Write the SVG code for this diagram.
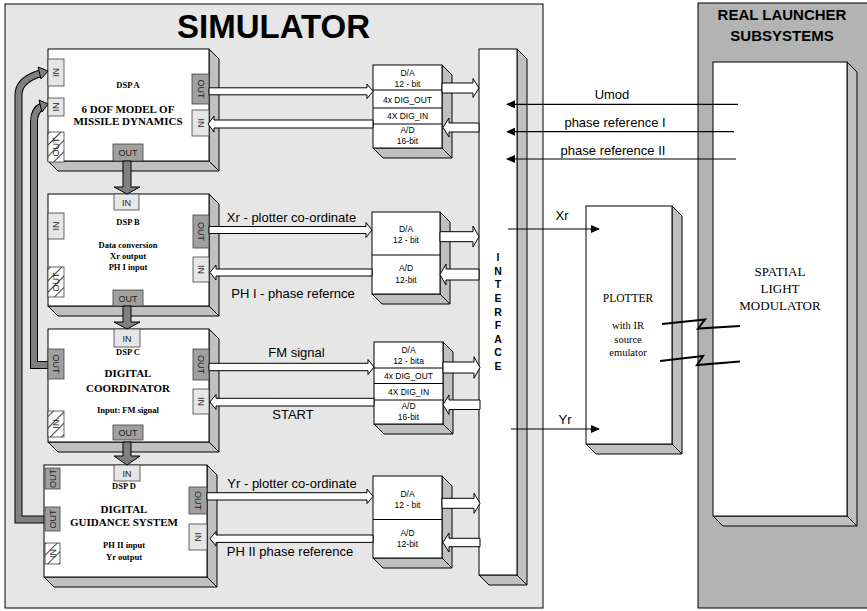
<svg xmlns="http://www.w3.org/2000/svg" width="867" height="611" viewBox="0 0 867 611">
<style>
.face{fill:#fff;stroke:#000;stroke-width:1}
.depth{fill:#c0c0c0;stroke:#000;stroke-width:1}
.pin{fill:#e6e6e6;stroke:#404040;stroke-width:0.8}
.pout{fill:#a0a0a0;stroke:#404040;stroke-width:0.8}
.phat{fill:url(#hatch);stroke:#404040;stroke-width:0.8}
.pt{font-family:"Liberation Sans",Arial,sans-serif;font-size:9px;fill:#222;text-anchor:middle}
.ser{font-family:"Liberation Serif","Times New Roman",serif;font-weight:bold;text-anchor:middle;fill:#000}
.cv{font-family:"Liberation Sans",Arial,sans-serif;font-size:8.5px;text-anchor:middle;fill:#000}
.lbl{font-family:"Liberation Sans",Arial,sans-serif;font-size:13px;text-anchor:middle;fill:#000}
.hol{fill:#fff;stroke:#000;stroke-width:1}
.thin{stroke:#000;stroke-width:1.2;fill:none}
.gbar{fill:#808080;stroke:#000;stroke-width:1}
.zig{stroke:#000;stroke-width:2;fill:none}
.plain{font-family:"Liberation Serif","Times New Roman",serif;text-anchor:middle;fill:#000}
</style>
<defs>
<pattern id="hatch" patternUnits="userSpaceOnUse" width="8" height="8" patternTransform="rotate(45)">
<rect width="8" height="8" fill="#fff"/>
<line x1="0" y1="0" x2="0" y2="8" stroke="#000" stroke-width="1.5"/>
</pattern>
<marker id="ah" markerWidth="9" markerHeight="8" refX="8" refY="4" orient="auto" markerUnits="userSpaceOnUse">
<path d="M0,0 L9,4 L0,8 Z" fill="#000"/>
</marker>
</defs>

<!-- panels -->
<g id="simulator">
<rect x="5" y="4" width="538" height="604" fill="#e6e6e6" stroke="#000" stroke-width="1"/>
<text x="177" y="37.5" font-family="Liberation Sans,Arial,sans-serif" font-size="33" font-weight="bold">SIMULATOR</text>
</g>
<g id="real-launcher">
<rect x="698" y="3" width="175" height="605" fill="#b3b3b3" stroke="#000" stroke-width="1"/>
<text x="782" y="19.5" font-family="Liberation Sans,Arial,sans-serif" font-size="15" font-weight="bold" text-anchor="middle">REAL LAUNCHER</text>
<text x="782" y="40.5" font-family="Liberation Sans,Arial,sans-serif" font-size="15" font-weight="bold" text-anchor="middle">SUBSYSTEMS</text>
</g>

<!-- feedback loops (drawn beneath DSP blocks) -->
<g id="loops">
<path d="M47,519.5 L18.5,519.5 L18.5,95 Q18.5,80 40,73.5" fill="none" stroke="#000" stroke-width="8" stroke-linejoin="miter"/>
<path d="M47,519.5 L18.5,519.5 L18.5,95 Q18.5,80 40,73.5" fill="none" stroke="#808080" stroke-width="6" stroke-linejoin="miter"/>
<path d="M38,67 L48,71 L41,79 Z" fill="#808080" stroke="#000" stroke-width="1"/>
<path d="M49,365 L34,365 L34,122 Q34,110 42,106.5" fill="none" stroke="#000" stroke-width="8"/>
<path d="M49,365 L34,365 L34,122 Q34,110 42,106.5" fill="none" stroke="#808080" stroke-width="6"/>
<path d="M39,100 L48,104 L42,112 Z" fill="#808080" stroke="#000" stroke-width="1"/>
</g>

<!-- DSP A -->
<g id="dsp-a">
<polygon class="depth" points="209,49 219,59 219,171 58,171 48,161 209,161"/>
<line x1="209" y1="161" x2="219" y2="171" stroke="#000"/>
<rect class="face" x="48" y="49" width="161" height="112"/>
<rect class="pin" x="48" y="59" width="16" height="27"/>
<text class="pt" transform="translate(56,72.5) rotate(-90)" y="3">IN</text>
<rect class="pin" x="48" y="98" width="16" height="18"/>
<text class="pt" transform="translate(56,107) rotate(-90)" y="3">IN</text>
<rect class="phat" x="48" y="132" width="16" height="30"/>
<text class="pt" transform="translate(56,147) rotate(-90)" y="3">OUT</text>
<rect class="pout" x="192" y="74" width="17" height="30"/>
<text class="pt" transform="translate(200.5,89) rotate(90)" y="3">OUT</text>
<rect class="pin" x="192" y="110" width="17" height="26"/>
<text class="pt" transform="translate(200.5,123) rotate(90)" y="3">IN</text>
<rect class="pout" x="113" y="144" width="30" height="17"/>
<text class="pt" x="128" y="156">OUT</text>
<text class="ser" x="128" y="87.5" font-size="8.5">DSP A</text>
<text class="ser" x="128" y="112.5" font-size="11">6 DOF MODEL OF</text>
<text class="ser" x="128" y="124.5" font-size="11">MISSILE DYNAMICS</text>
</g>

<!-- DSP B -->
<g id="dsp-b">
<polygon class="depth" points="209,194 219,204 219,316 58,316 48,306 209,306"/>
<line x1="209" y1="306" x2="219" y2="316" stroke="#000"/>
<rect class="face" x="48" y="194" width="161" height="112"/>
<rect class="pin" x="114" y="194" width="25" height="16"/>
<text class="pt" x="126.5" y="205.5">IN</text>
<rect class="pin" x="48" y="213" width="16" height="26"/>
<text class="pt" transform="translate(56,226) rotate(-90)" y="3">IN</text>
<rect class="phat" x="48" y="267" width="16" height="30"/>
<text class="pt" transform="translate(56,282) rotate(-90)" y="3">OUT</text>
<rect class="pout" x="193" y="215" width="16" height="33"/>
<text class="pt" transform="translate(201,231.5) rotate(90)" y="3">OUT</text>
<rect class="pin" x="193" y="257" width="16" height="25"/>
<text class="pt" transform="translate(201,269.5) rotate(90)" y="3">IN</text>
<rect class="pout" x="113" y="290" width="30" height="16"/>
<text class="pt" x="128" y="301.5">OUT</text>
<text class="ser" x="128" y="225" font-size="8.5">DSP B</text>
<text class="ser" x="128" y="248" font-size="8.5">Data conversion</text>
<text class="ser" x="128" y="259" font-size="8.5">Xr output</text>
<text class="ser" x="128" y="270" font-size="8.5">PH I input</text>
</g>

<!-- DSP C -->
<g id="dsp-c">
<polygon class="depth" points="209,329 219,339 219,452 58,452 48,442 209,442"/>
<line x1="209" y1="442" x2="219" y2="452" stroke="#000"/>
<rect class="face" x="48" y="329" width="161" height="113"/>
<rect class="pin" x="114" y="329" width="26" height="18"/>
<text class="pt" x="127" y="341.5">IN</text>
<rect class="pout" x="48" y="349" width="16" height="30"/>
<text class="pt" transform="translate(56,364) rotate(90)" y="3">OUT</text>
<rect class="phat" x="48" y="411" width="16" height="26"/>
<text class="pt" transform="translate(56,424) rotate(-90)" y="3">IN</text>
<rect class="pout" x="193" y="349" width="16" height="31"/>
<text class="pt" transform="translate(201,364.5) rotate(90)" y="3">OUT</text>
<rect class="pin" x="193" y="389" width="16" height="25"/>
<text class="pt" transform="translate(201,401.5) rotate(90)" y="3">IN</text>
<rect class="pout" x="113" y="425" width="30" height="15"/>
<text class="pt" x="128" y="436">OUT</text>
<text class="ser" x="128" y="355" font-size="8.5">DSP C</text>
<text class="ser" x="128" y="377" font-size="11">DIGITAL</text>
<text class="ser" x="128" y="391.5" font-size="11">COORDINATOR</text>
<text class="ser" x="128" y="412.5" font-size="8.5">Input: FM signal</text>
</g>

<!-- DSP D -->
<g id="dsp-d">
<polygon class="depth" points="207,465 217,475 217,587 54,587 44,577 207,577"/>
<line x1="207" y1="577" x2="217" y2="587" stroke="#000"/>
<rect class="face" x="44" y="465" width="163" height="112"/>
<rect class="pin" x="114" y="465" width="26" height="16"/>
<text class="pt" x="127" y="476.5">IN</text>
<rect class="pout" x="45" y="468" width="15" height="21"/>
<text class="pt" transform="translate(52.5,478.5) rotate(-90)" y="3">OUT</text>
<rect class="pout" x="45" y="507" width="15" height="24"/>
<text class="pt" transform="translate(52.5,519) rotate(-90)" y="3">OUT</text>
<rect class="phat" x="45" y="543" width="15" height="21"/>
<text class="pt" transform="translate(52.5,553.5) rotate(-90)" y="3">IN</text>
<rect class="pout" x="189" y="487" width="18" height="27"/>
<text class="pt" transform="translate(198,500.5) rotate(90)" y="3">OUT</text>
<rect class="pin" x="189" y="524" width="18" height="26"/>
<text class="pt" transform="translate(198,537) rotate(90)" y="3">IN</text>
<text class="ser" x="124" y="489" font-size="8.5">DSP D</text>
<text class="ser" x="124" y="512.5" font-size="11">DIGITAL</text>
<text class="ser" x="124" y="526" font-size="11">GUIDANCE SYSTEM</text>
<text class="ser" x="124" y="548" font-size="8.5">PH II input</text>
<text class="ser" x="124" y="560" font-size="8.5">Yr  output</text>
</g>

<!-- Converters -->
<g id="conv-a">
<polygon class="depth" points="442,65 452,75 452,158 383,158 373,148 442,148"/>
<line x1="442" y1="148" x2="452" y2="158" stroke="#000"/>
<rect class="face" x="373" y="65" width="69" height="83"/>
<line x1="373" y1="90" x2="442" y2="90" stroke="#000"/>
<line x1="373" y1="108" x2="442" y2="108" stroke="#000"/>
<line x1="373" y1="124" x2="442" y2="124" stroke="#000"/>
<text class="cv" x="407.5" y="75.5">D/A</text>
<text class="cv" x="407.5" y="86.5">12 - bit</text>
<text class="cv" x="407.5" y="102.5">4x DIG_OUT</text>
<text class="cv" x="407.5" y="119">4X DIG_IN</text>
<text class="cv" x="407.5" y="133">A/D</text>
<text class="cv" x="407.5" y="144">16-bit</text>
</g>
<g id="conv-b">
<polygon class="depth" points="440,212 450,222 450,304 382,304 372,294 440,294"/>
<line x1="440" y1="294" x2="450" y2="304" stroke="#000"/>
<rect class="face" x="372" y="212" width="68" height="82"/>
<line x1="372" y1="255" x2="440" y2="255" stroke="#000"/>
<text class="cv" x="406" y="231.5">D/A</text>
<text class="cv" x="406" y="242.5">12 - bit</text>
<text class="cv" x="406" y="271">A/D</text>
<text class="cv" x="406" y="282.5">12-bit</text>
</g>
<g id="conv-c">
<polygon class="depth" points="443,342 453,352 453,434 384,434 374,424 443,424"/>
<line x1="443" y1="424" x2="453" y2="434" stroke="#000"/>
<rect class="face" x="374" y="342" width="69" height="82"/>
<line x1="374" y1="368" x2="443" y2="368" stroke="#000"/>
<line x1="374" y1="383.5" x2="443" y2="383.5" stroke="#000"/>
<line x1="374" y1="400" x2="443" y2="400" stroke="#000"/>
<text class="cv" x="408.5" y="352.5">D/A</text>
<text class="cv" x="408.5" y="363.5">12 - bita</text>
<text class="cv" x="408.5" y="379">4x DIG_OUT</text>
<text class="cv" x="408.5" y="395">4X DIG_IN</text>
<text class="cv" x="408.5" y="409">A/D</text>
<text class="cv" x="408.5" y="420">16-bit</text>
</g>
<g id="conv-d">
<polygon class="depth" points="442,476 452,486 452,568 383,568 373,558 442,558"/>
<line x1="442" y1="558" x2="452" y2="568" stroke="#000"/>
<rect class="face" x="373" y="476" width="69" height="82"/>
<line x1="373" y1="519.5" x2="442" y2="519.5" stroke="#000"/>
<text class="cv" x="407.5" y="496.5">D/A</text>
<text class="cv" x="407.5" y="507.5">12 - bit</text>
<text class="cv" x="407.5" y="535.5">A/D</text>
<text class="cv" x="407.5" y="546.5">12-bit</text>
</g>

<!-- Interface -->
<g id="interface">
<polygon class="depth" points="517,49 527,59 527,585 489,585 479,575 517,575"/>
<line x1="517" y1="575" x2="527" y2="585" stroke="#000"/>
<rect class="face" x="479" y="49" width="38" height="526"/>
<g font-family="Liberation Sans,Arial,sans-serif" font-size="10.5" font-weight="bold" text-anchor="middle">
<text x="498" y="260.5">I</text>
<text x="498" y="274.5">N</text>
<text x="498" y="288">T</text>
<text x="498" y="301.5">E</text>
<text x="498" y="315.5">R</text>
<text x="498" y="328.5">F</text>
<text x="498" y="342.5">A</text>
<text x="498" y="355.5">C</text>
<text x="498" y="369.5">E</text>
</g>
</g>

<!-- Plotter -->
<g id="plotter">
<polygon class="depth" points="672,206 682,216 682,454 596,454 586,444 672,444"/>
<line x1="672" y1="444" x2="682" y2="454" stroke="#000"/>
<rect class="face" x="586" y="206" width="86" height="238"/>
<text class="plain" x="628" y="302" font-size="11.5">PLOTTER</text>
<text class="plain" x="628" y="329" font-size="10.5">with IR</text>
<text class="plain" x="628" y="342.5" font-size="10.5">source</text>
<text class="plain" x="628" y="356" font-size="10.5">emulator</text>
</g>

<!-- Spatial light modulator -->
<g id="slm">
<polygon class="depth" points="847,62 857,72 857,526 723,526 713,516 847,516"/>
<line x1="847" y1="516" x2="857" y2="526" stroke="#000"/>
<rect class="face" x="713" y="62" width="134" height="454"/>
<text class="plain" x="780" y="276" font-size="13">SPATIAL</text>
<text class="plain" x="780" y="293" font-size="13">LIGHT</text>
<text class="plain" x="780" y="310" font-size="13">MODULATOR</text>
</g>

<!-- Connectors -->
<g id="connectors">
<!-- gray down arrows -->
<polygon class="gbar" points="123,161 131,161 131,187 140,187 127,194 114,187 123,187"/>
<polygon class="gbar" points="123,306 131,306 131,322 140,322 127,329 114,322 123,322"/>
<polygon class="gbar" points="123,442 131,442 131,456 140,456 127,465 114,456 123,456"/>

<!-- DSP A <-> converter A -->
<polygon class="hol" points="209,87.8 367,87.8 367,84 373,91.3 367,98.6 367,94.8 209,94.8"/>
<polygon class="hol" points="373,120 214,120 214,116 208,124 214,132 214,128 373,128"/>
<polygon class="hol" points="442,83 473,83 473,78.5 479,88 473,97.5 473,93 442,93"/>
<polygon class="hol" points="479,123 449,123 449,118 443,127.5 449,137 449,132 479,132"/>

<!-- DSP B <-> converter B -->
<polygon class="hol" points="209,226.5 366,226.5 366,222.5 372,230 366,237.5 366,233.5 209,233.5"/>
<polygon class="hol" points="372,269 216,269 216,265 210,272.5 216,280 216,276 372,276"/>
<polygon class="hol" points="440,231.7 473,231.7 473,226 479,236.7 473,247 473,241.7 440,241.7"/>
<polygon class="hol" points="479,269 446,269 446,264 440,274.5 446,285 446,280 479,280"/>

<!-- DSP C <-> converter C -->
<polygon class="hol" points="209,363.3 368,363.3 368,359.5 374,367 368,374.5 368,370.7 209,370.7"/>
<polygon class="hol" points="374,398.3 216,398.3 216,394.5 210,402 216,409.5 216,406 374,406"/>
<polygon class="hol" points="443,362 474,362 474,356.7 480,367.5 474,378.3 474,373 443,373"/>
<polygon class="hol" points="480,400 449,400 449,395 443,404.7 449,414.5 449,409.5 480,409.5"/>

<!-- DSP D <-> converter D -->
<polygon class="hol" points="207,492.7 367,492.7 367,489 373,496.3 367,503.6 367,500 207,500"/>
<polygon class="hol" points="373,535 216,535 216,531.5 210,538.7 216,546 216,542.4 373,542.4"/>
<polygon class="hol" points="442,498.3 474,498.3 474,493.3 480,503.3 474,513.3 474,508.3 442,508.3"/>
<polygon class="hol" points="480,538.3 449,538.3 449,533 443,542.5 449,552 449,546.7 480,546.7"/>

<!-- Real launcher -> interface -->
<line class="thin" x1="738" y1="104.3" x2="507" y2="104.3" marker-end="url(#ah)"/>
<line class="thin" x1="734" y1="131.7" x2="507" y2="131.7" marker-end="url(#ah)"/>
<line class="thin" x1="736" y1="159" x2="507" y2="159" marker-end="url(#ah)"/>
<!-- interface -> plotter -->
<line class="thin" x1="508" y1="229" x2="599" y2="229" marker-end="url(#ah)"/>
<line class="thin" x1="511" y1="429" x2="599" y2="429" marker-end="url(#ah)"/>
<!-- optical links -->
<polyline class="zig" points="662,324 705,319.5 698,328.5 740,326"/>
<polyline class="zig" points="660,361 703,356 697,365 740,361.5"/>

<!-- labels -->
<text class="lbl" x="612" y="98.5">Umod</text>
<text class="lbl" x="615" y="127">phase reference I</text>
<text class="lbl" x="613" y="154.5">phase reference II</text>
<text class="lbl" x="562" y="220">Xr</text>
<text class="lbl" x="565" y="424">Yr</text>
<text class="lbl" x="291.5" y="221.5">Xr - plotter co-ordinate</text>
<text class="lbl" x="293" y="298">PH I - phase refernce</text>
<text class="lbl" x="296.5" y="357">FM signal</text>
<text class="lbl" x="293" y="419">START</text>
<text class="lbl" x="292" y="488">Yr - plotter co-ordinate</text>
<text class="lbl" x="290" y="556">PH II phase reference</text>
</g>
</svg>
